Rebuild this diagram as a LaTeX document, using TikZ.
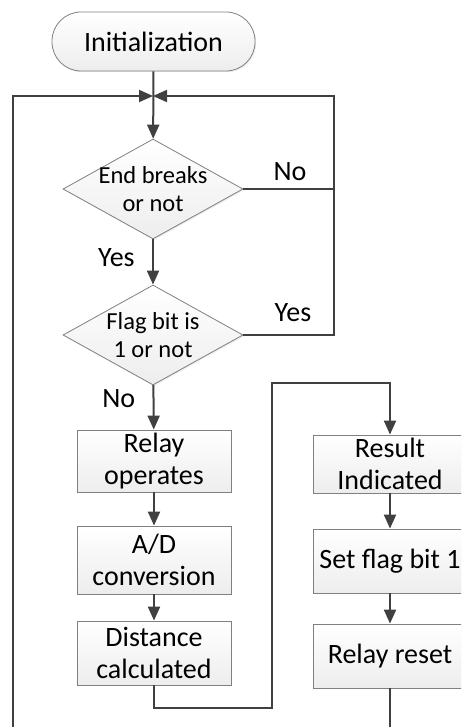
\documentclass[tikz,border=0pt]{standalone}
\usepackage{fontspec}
\setmainfont{Carlito}
\usetikzlibrary{positioning,shapes.geometric,arrows.meta,shadows}

\tikzset{
  box/.style={draw=black!50,line width=0.8pt,top color=white,bottom color=black!7,
    drop shadow={shadow xshift=1.2pt,shadow yshift=-1.2pt,opacity=.15},
    minimum width=154pt,inner sep=0pt,align=center,font=\fontsize{28}{32}\selectfont},
  test/.style={box,diamond,minimum width=180pt,minimum height=100pt,aspect=1.8,
    inner sep=-4pt,font=\fontsize{24.5}{28}\selectfont},
  term/.style={box,rounded corners=29pt,minimum width=203pt,minimum height=59pt},
  link/.style={draw=black!75,line width=2pt},
  arr/.style={link,-{Triangle[length=14pt,width=12pt]}},
  lab/.style={font=\fontsize{28}{33}\selectfont}
}

\begin{document}
\begin{tikzpicture}[x=1pt,y=-1pt]
\useasboundingbox (0,0) rectangle (461,727);
\clip (0,0) rectangle (461,727);

\node[term] (init) at (153.5,41.5) {Initialization};
\node[test] (d1) at (153,189) {End breaks\\or not};
\node[test] (d2) at (153,335) {Flag bit is\\1 or not};
\node[box,minimum height=62pt] (relay) at (154,461) {Relay\\operates};
\node[box,minimum height=68pt] (ad) at (154,560) {A/D\\conversion};
\node[box,minimum height=64pt] (dist) at (154,653) {Distance\\calculated};
\node[box,minimum height=58pt] (res) at (390,464) {Result\\Indicated};
\node[box,minimum height=64pt] (flag) at (390,561) {Set flag bit 1};
\node[box,minimum height=64pt] (reset) at (390,656) {Relay reset};

\coordinate (j) at (153,96);
\coordinate (r1) at (334,189);
\coordinate (c1) at (272,708);
\coordinate (c2) at (272,383);
\coordinate (bot) at (13,780);

\draw[arr] (init) -- (d1);
\draw[arr] (d1) -- node[lab,left=14pt,pos=.4] (yes1) {Yes} (d2);
\draw[arr] (d2) -- node[lab,left=14pt,pos=.3] (no2) {No} (relay);
\foreach \a/\b in {relay/ad,ad/dist,res/flag,flag/reset}
	\draw[arr] (\a)--(\b);

\draw[arr] (d1.east) -- (r1) |- (j);
\draw[link] (d2.east) -| (r1);
\node[lab] (no1) at (290,172) {No};
\node[lab] (yes2) at (293,313) {Yes};

\draw[arr] (dist.south) |- (c1) -- (c2) -| (res.north);
\draw[arr] (reset.south) |- (bot) |- (j);
\end{tikzpicture}
\end{document}
